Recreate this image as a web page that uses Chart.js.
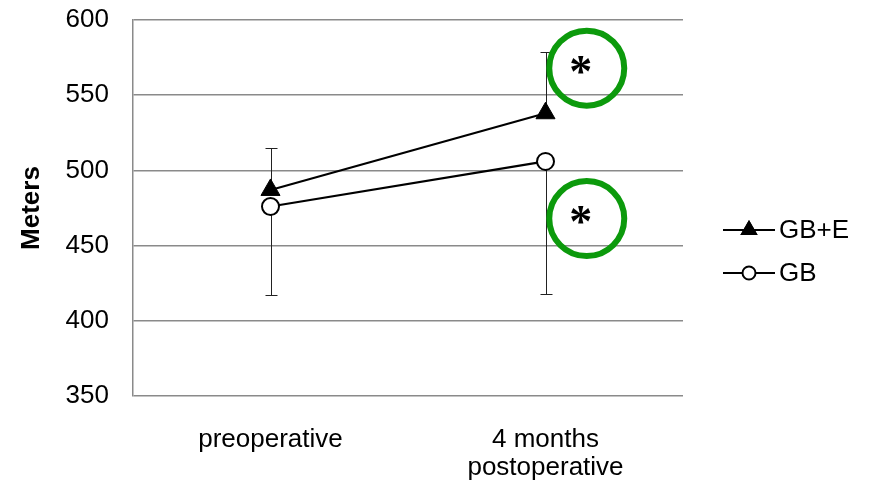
<!DOCTYPE html>
<html>
<head>
<meta charset="utf-8">
<script src="https://cdn.jsdelivr.net/npm/chart.js@4.4.1/dist/chart.umd.min.js"></script>
<style>
  html, body { margin: 0; padding: 0; background: #fff; }
  #wrap { width: 869px; height: 483px; position: relative; }
</style>
</head>
<body>
<div id="wrap"><canvas id="c" width="869" height="483"></canvas></div>
<script>
// Time points on the x axis
const categories = ['preoperative', ['4 months', 'postoperative']];

// Walking distance (meters), group means
const gbE = [487, 538];
const gb = [476, 506];

// Standard deviations: upper whisker for GB+E, lower whisker for GB
const gbEErrUp = [28, 41];
const gbErrDown = [59, 88];

// Y axis range and step
const yMin = 350, yMax = 600, yStep = 50;

// Significance markers (category index, value)
const sigMarks = [
  { x: 1.15, y: 568 },
  { x: 1.15, y: 468 }
];

const FONT = "'Liberation Sans', Arial, sans-serif";
const FS = 26;

// Whiskers drawn behind the markers
const errorBars = {
  id: 'errorBars',
  beforeDatasetsDraw(chart) {
    const { ctx, scales: { x, y } } = chart;
    ctx.save();
    ctx.strokeStyle = '#222';
    ctx.lineWidth = 1;
    const cap = 6;
    const draw = (i, from, to) => {
      const px = Math.round(x.getPixelForValue(i)) + 0.5;
      const y0 = y.getPixelForValue(from);
      const y1 = Math.round(y.getPixelForValue(to)) + 0.5;
      ctx.beginPath();
      ctx.moveTo(px, y0);
      ctx.lineTo(px, y1);
      ctx.moveTo(px - cap, y1);
      ctx.lineTo(px + cap, y1);
      ctx.stroke();
    };
    gbE.forEach((v, i) => draw(i, v, v + gbEErrUp[i]));
    gb.forEach((v, i) => draw(i, v, v - gbErrDown[i]));
    ctx.restore();
  }
};

// Green circled asterisks
const sigCircles = {
  id: 'sigCircles',
  afterDatasetsDraw(chart) {
    const { ctx, scales: { x, y } } = chart;
    ctx.save();
    sigMarks.forEach(m => {
      const cx = x.getPixelForValue(m.x);
      const cy = y.getPixelForValue(m.y);
      ctx.beginPath();
      ctx.arc(cx, cy, 37.5, 0, Math.PI * 2);
      ctx.strokeStyle = '#0c9a0c';
      ctx.lineWidth = 6;
      ctx.stroke();
      ctx.fillStyle = '#000';
      ctx.font = "bold 46px 'Liberation Serif', 'Times New Roman', serif";
      ctx.textAlign = 'center';
      ctx.textBaseline = 'middle';
      ctx.fillText('*', cx - 6, cy + 7);
    });
    ctx.restore();
  }
};

// Legend on the right: line with marker, then label
const sideLegend = {
  id: 'sideLegend',
  afterDraw(chart) {
    const { ctx, chartArea } = chart;
    const x0 = chartArea.right + 40;
    const len = 52;
    const mid = (chartArea.top + chartArea.bottom) / 2;
    const rows = [mid + 22, mid + 65];
    ctx.save();
    chart.data.datasets.forEach((ds, i) => {
      const yy = rows[i];
      ctx.strokeStyle = '#000';
      ctx.lineWidth = 2;
      ctx.beginPath();
      ctx.moveTo(x0, yy);
      ctx.lineTo(x0 + len, yy);
      ctx.stroke();
      const cx = x0 + len / 2;
      if (ds.pointStyle === 'triangle') {
        Chart.helpers.drawPoint(ctx, { pointStyle: 'triangle', radius: 10, rotation: 0, borderWidth: 0 }, cx, yy);
        ctx.fillStyle = '#000';
        ctx.fill();
      } else {
        ctx.beginPath();
        ctx.arc(cx, yy, 6.5, 0, Math.PI * 2);
        ctx.fillStyle = '#fff';
        ctx.fill();
        ctx.lineWidth = 2;
        ctx.stroke();
      }
      ctx.fillStyle = '#000';
      ctx.font = FS + 'px ' + FONT;
      ctx.textAlign = 'left';
      ctx.textBaseline = 'middle';
      ctx.fillText(ds.label, x0 + len + 4, yy + 1);
    });
    ctx.restore();
  }
};

new Chart(document.getElementById('c'), {
  type: 'line',
  data: {
    labels: categories,
    datasets: [
      {
        label: 'GB+E',
        data: gbE,
        borderColor: '#000',
        borderWidth: 2.2,
        pointStyle: 'triangle',
        pointRadius: 11,
        pointBackgroundColor: '#000',
        pointBorderColor: '#000',
        pointBorderWidth: 1
      },
      {
        label: 'GB',
        data: gb,
        borderColor: '#000',
        borderWidth: 2.2,
        pointStyle: 'circle',
        pointRadius: 8.5,
        pointBackgroundColor: '#fff',
        pointBorderColor: '#000',
        pointBorderWidth: 2
      }
    ]
  },
  options: {
    responsive: false,
    animation: false,
    layout: { padding: { top: 20, right: 186, bottom: 0, left: 0 } },
    plugins: { legend: { display: false }, tooltip: { enabled: false } },
    scales: {
      x: {
        offset: true,
        grid: { display: false, drawTicks: false },
        border: { display: false },
        ticks: { color: '#000', font: { family: FONT, size: FS, lineHeight: 1.08 }, padding: 30, maxRotation: 0 },
        afterFit(s) { s.height = 87; s.paddingLeft = 0; s.paddingRight = 0; }
      },
      y: {
        min: yMin,
        max: yMax,
        grid: { color: '#8a8a8a', lineWidth: 1.5, drawTicks: false },
        border: { display: true, color: '#8a8a8a', width: 1.5 },
        ticks: { stepSize: yStep, color: '#000', font: { family: FONT, size: FS }, padding: 24 },
        title: { display: true, text: 'Meters', color: '#000', font: { family: FONT, size: FS, weight: 'bold' }, padding: { top: 16, bottom: 0 } },
        afterFit(s) { s.width = 133; s.paddingTop = 0; s.paddingBottom = 0; }
      }
    }
  },
  plugins: [errorBars, sigCircles, sideLegend]
});
</script>
</body>
</html>
